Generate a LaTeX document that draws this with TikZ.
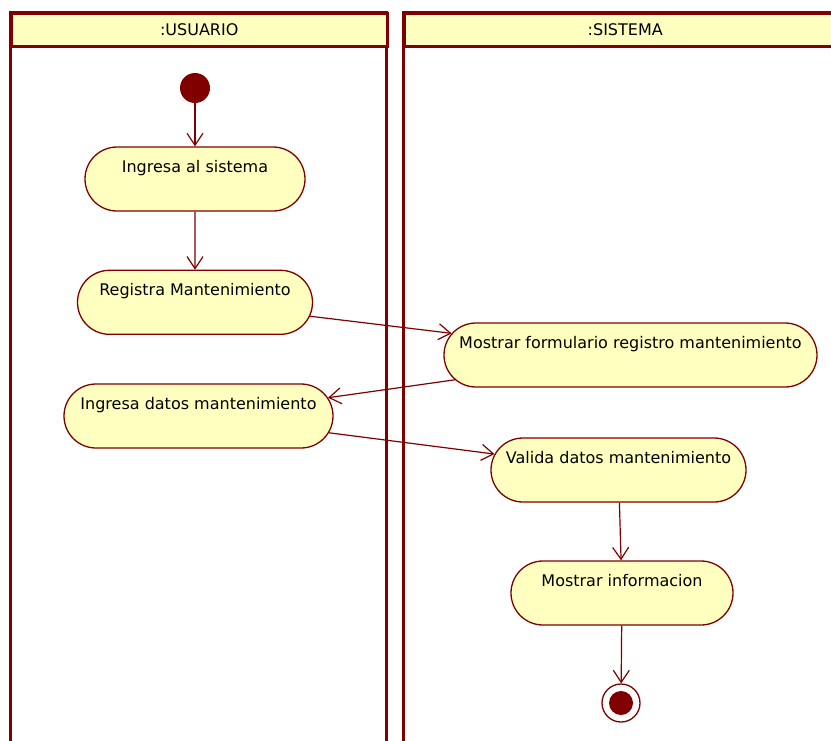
\documentclass[tikz,border=0pt]{standalone}
\usepackage{fontspec}
\setmainfont{DejaVu Sans}
\usetikzlibrary{shapes.misc, arrows.meta, positioning}
\definecolor{umlred}{RGB}{128,0,0}
\definecolor{umlfill}{RGB}{255,255,192}

\begin{document}
\begin{tikzpicture}[
			x=1pt, y=-1pt,
			node distance=58pt and 40pt,
			lane/.style={draw=umlred, line width=3pt},
			head/.style={rectangle, draw=umlred, line width=2.5pt, fill=umlfill, minimum height=33pt, anchor=north west, font=\fontsize{16}{19}\selectfont},
			act/.style={rounded rectangle, draw=umlred, line width=1.3pt, fill=umlfill, minimum height=64pt, inner xsep=0pt, inner ysep=8pt, text height=17pt, text depth=31pt, font=\fontsize{16}{19}\selectfont},
			start/.style={circle, fill=umlred, minimum size=30pt, inner sep=0pt},
			stop/.style={circle, draw=umlred, line width=1.3pt, fill=white, minimum size=38pt, inner sep=0pt,
				path picture={\fill[umlred] (path picture bounding box.center) circle (12pt);}},
			arr/.style={-{Straight Barb[length=12pt, width=16pt]}, draw=umlred, line width=1.2pt}
			]
			\useasboundingbox (0,0) rectangle (831,740);
			\clip (0,0) rectangle (831,740);
			% swimlanes
			\draw[lane] (10,12) rectangle (386,760);
			\draw[lane] (403,12) rectangle (845,760);
			\node[head, minimum width=376pt] (usuario) at (10,12) {:USUARIO};
			\node[head, minimum width=442pt] (sistema) at (403,12) {:SISTEMA};
			% usuario
			\node[start] (inicio) at (195,88) {};
			\node[act, minimum width=220pt] (ingresa) at (195,179) {Ingresa al sistema};
			\node[act, minimum width=235pt, below=of ingresa] (registra) {Registra Mantenimiento};
			\node[act, minimum width=269pt] (datos) at (198.5,416) {Ingresa datos mantenimiento};
			% sistema
			\node[act, minimum width=373pt] (formulario) at (630.5,355) {Mostrar formulario registro mantenimiento};
			\node[act, minimum width=255pt] (valida) at (618.5,470) {Valida datos mantenimiento};
			\node[act, minimum width=222pt] (info) at (622,593) {Mostrar informacion};
			\node[stop] (fin) at (621,703) {};
			\draw[arr] (inicio) -- (ingresa);
			\draw[arr] (ingresa) -- (registra);
			\draw[arr] (registra) -- (formulario);
			\draw[arr] (formulario) -- (datos);
			\draw[arr] (datos) -- (valida);
			\draw[arr] (valida) -- (info);
			\draw[arr] (info) -- (fin);
		\end{tikzpicture}
\end{document}
